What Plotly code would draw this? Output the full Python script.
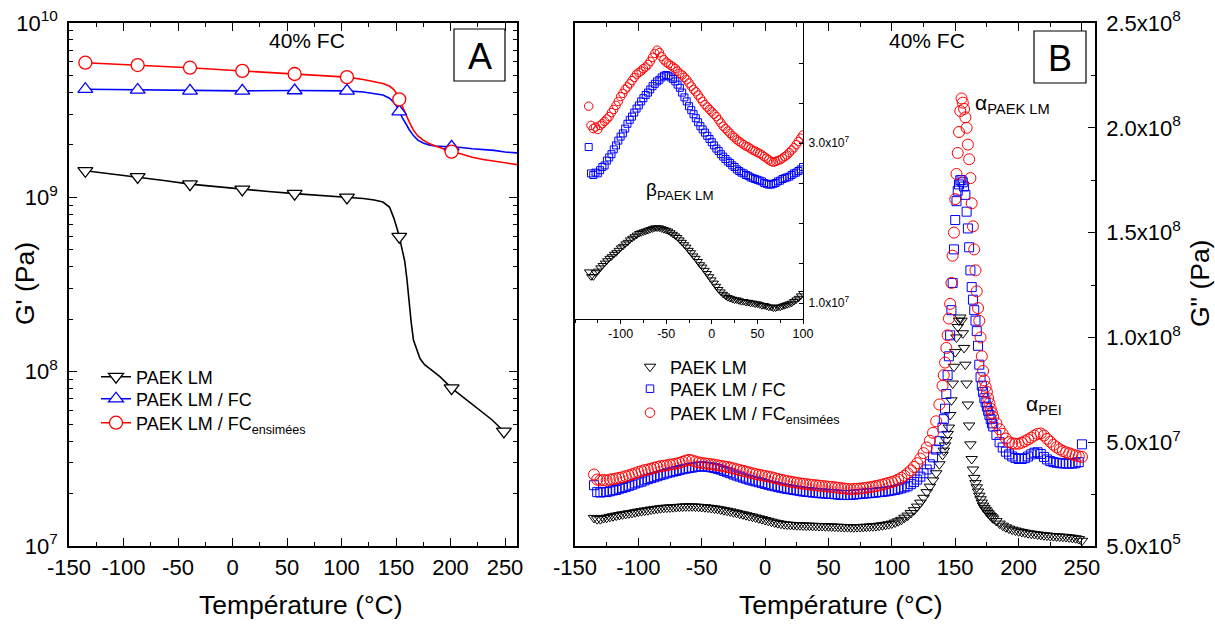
import plotly.graph_objects as go

W, H = 1215, 624
FONT = "Arial, 'Liberation Sans', Helvetica, sans-serif"


def px(x):
    return x / W


def py(y):
    return 1 - y / H


# ---------------- Panel A : G' (Pa), log scale ----------------
temp_a_markers = [-135, -87, -39, 9, 57, 105, 153, 201, 249]
g1_lm_markers = [1.42e9, 1.31e9, 1.19e9, 1.11e9, 1.05e9, 1.0e9, 5.95e8, 8.04e7, 4.54e7]
g1_fc_markers = [4.17e9, 4.13e9, 4.08e9, 4.08e9, 4.10e9, 4.08e9, 3.10e9, 1.95e9]
g1_fcens_markers = [5.92e9, 5.74e9, 5.54e9, 5.31e9, 5.10e9, 4.89e9, 3.65e9, 1.83e9]

temp_a_lm_line = [-135, -111, -87, -63, -39, -15, 9, 33, 57, 81, 105, 120, 130, 138, 144, 148,
                  151, 153, 156, 158, 160, 162, 164, 166, 169, 172, 176, 181, 190, 201, 212,
                  225, 238, 249]
g1_lm_line = [1.42e9, 1.365e9, 1.31e9, 1.25e9, 1.19e9, 1.15e9, 1.11e9, 1.08e9, 1.05e9, 1.025e9,
              1.0e9, 9.85e8, 9.65e8, 9.4e8, 8.8e8, 7.6e8, 6.6e8, 5.95e8, 4.9e8, 4.3e8, 3.4e8,
              2.5e8, 1.9e8, 1.52e8, 1.33e8, 1.19e8, 1.10e8, 1.04e8, 9.4e7, 8.04e7, 7.1e7,
              6.2e7, 5.3e7, 4.54e7]

temp_a_fc_line = [-135, -87, -39, 9, 57, 105, 120, 130, 138, 144, 148, 151, 153, 156, 159, 162,
                  166, 170, 175, 180, 186, 193, 201, 210, 220, 230, 240, 250, 261]
g1_fc_line = [4.17e9, 4.13e9, 4.08e9, 4.08e9, 4.10e9, 4.08e9, 4.02e9, 3.95e9, 3.86e9, 3.70e9,
              3.50e9, 3.30e9, 3.10e9, 2.85e9, 2.65e9, 2.45e9, 2.26e9, 2.13e9, 2.05e9, 2.00e9,
              1.97e9, 1.96e9, 1.95e9, 1.93e9, 1.90e9, 1.88e9, 1.86e9, 1.82e9, 1.80e9]
g1_fcens_line = [5.92e9, 5.74e9, 5.54e9, 5.31e9, 5.10e9, 4.89e9, 4.74e9, 4.62e9, 4.50e9, 4.35e9,
                 4.15e9, 3.90e9, 3.65e9, 3.30e9, 3.02e9, 2.72e9, 2.43e9, 2.25e9, 2.13e9, 2.04e9,
                 1.97e9, 1.90e9, 1.83e9, 1.77e9, 1.70e9, 1.65e9, 1.61e9, 1.57e9, 1.54e9]

# ---------------- Panel B : G'' (values in 1e7 Pa) ----------------
temp_b_low = [-135, -132.5, -130, -127.5, -125, -122.5, -120, -117.5, -115, -112.5,
              -110, -107.5, -105, -102.5, -100, -97.5, -95, -92.5, -90, -87.5,
              -85, -82.5, -80, -77.5, -75, -72.5, -70, -67.5, -65, -62.5,
              -60, -57.5, -55, -52.5, -50, -47.5, -45, -42.5, -40, -37.5,
              -35, -32.5, -30, -27.5, -25, -22.5, -20, -17.5, -15, -12.5,
              -10, -7.5, -5, -2.5, 0, 2.5, 5, 7.5, 10, 12.5,
              15, 17.5, 20, 22.5, 25, 27.5, 30, 32.5, 35, 37.5,
              40, 42.5, 45, 47.5, 50, 52.5, 55, 57.5, 60, 62.5,
              65, 67.5, 70, 72.5, 75, 77.5, 80, 82.5, 85, 87.5,
              90, 92.5, 95, 97.5, 100, 102.5, 105, 107.5, 110, 112.5,
              115, 117.5, 120, 122.5, 125, 127.5, 130, 132.5, 135, 137.5]
temp_b_peak = [140, 141, 142, 143, 144, 145, 146, 147, 148, 149,
               150, 151, 152, 153, 154, 155, 156, 157, 158, 159,
               160, 161, 162, 163, 164, 165, 166, 167, 168, 169,
               170, 171, 172, 173, 174, 175, 176, 177, 178, 179, 180]
temp_b_high = [182.5, 185, 187.5, 190, 192.5, 195, 197.5, 200, 202.5, 205,
               207.5, 210, 212.5, 215, 217.5, 220, 222.5, 225, 227.5, 230,
               232.5, 235, 237.5, 240, 242.5, 245, 247.5, 250]

g2_lm_low = [1.39, 1.33, 1.33, 1.38, 1.40, 1.44, 1.47, 1.50, 1.53, 1.56,
             1.58, 1.61, 1.63, 1.66, 1.69, 1.71, 1.74, 1.76, 1.79, 1.81,
             1.83, 1.85, 1.87, 1.88, 1.89, 1.90, 1.91, 1.92, 1.93, 1.94,
             1.94, 1.94, 1.93, 1.92, 1.91, 1.90, 1.88, 1.86, 1.84, 1.82,
             1.79, 1.76, 1.73, 1.70, 1.66, 1.63, 1.59, 1.56, 1.52, 1.48,
             1.45, 1.41, 1.37, 1.33, 1.29, 1.25, 1.21, 1.17, 1.14, 1.11,
             1.09, 1.07, 1.06, 1.05, 1.04, 1.04, 1.03, 1.02, 1.02, 1.01,
             1.01, 1.00, 1.00, 0.99, 0.99, 0.98, 0.97, 0.97, 0.96, 0.95,
             0.95, 0.94, 0.94, 0.95, 0.95, 0.96, 0.97, 0.98, 0.99, 1.00,
             1.02, 1.04, 1.06, 1.09, 1.12, 1.17, 1.23, 1.30, 1.40, 1.50,
             1.62, 1.76, 1.93, 2.12, 2.35, 2.62, 2.88, 3.18, 3.52, 3.95]
g2_lm_peak = [4.40, 4.60, 4.85, 5.10, 5.40, 5.70, 6.30, 7.00, 7.80, 8.60,
              9.30, 10.00, 10.50, 10.80, 10.95, 10.80, 10.20, 9.50, 8.70, 7.80,
              6.80, 5.80, 4.90, 4.20, 3.70, 3.30, 3.05, 2.85, 2.65, 2.45,
              2.28, 2.12, 1.98, 1.87, 1.78, 1.70, 1.62, 1.55, 1.48, 1.42, 1.36]
g2_lm_high = [1.24, 1.12, 1.02, 0.94, 0.88, 0.83, 0.79, 0.75, 0.72, 0.69,
              0.66, 0.64, 0.62, 0.60, 0.58, 0.56, 0.55, 0.53, 0.52, 0.51,
              0.50, 0.49, 0.48, 0.46, 0.44, 0.42, 0.38, 0.30]

g2_fc_low = [2.95, 2.62, 2.60, 2.63, 2.62, 2.66, 2.70, 2.72, 2.78, 2.82,
             2.86, 2.92, 2.97, 3.03, 3.08, 3.12, 3.18, 3.24, 3.29, 3.33,
             3.38, 3.43, 3.47, 3.52, 3.56, 3.60, 3.63, 3.67, 3.71, 3.74,
             3.77, 3.79, 3.82, 3.84, 3.85, 3.84, 3.82, 3.80, 3.77, 3.73,
             3.69, 3.63, 3.57, 3.52, 3.46, 3.41, 3.36, 3.31, 3.26, 3.21,
             3.17, 3.13, 3.09, 3.05, 3.01, 2.97, 2.93, 2.90, 2.86, 2.83,
             2.80, 2.77, 2.75, 2.72, 2.70, 2.67, 2.65, 2.63, 2.62, 2.60,
             2.59, 2.57, 2.56, 2.55, 2.54, 2.53, 2.52, 2.50, 2.49, 2.48,
             2.48, 2.49, 2.50, 2.52, 2.53, 2.55, 2.56, 2.57, 2.58, 2.60,
             2.62, 2.63, 2.65, 2.67, 2.70, 2.72, 2.76, 2.80, 2.85, 2.90,
             3.00, 3.10, 3.22, 3.36, 3.52, 3.70, 3.95, 4.28, 4.65, 5.05]
g2_fc_peak = [5.70, 6.10, 6.60, 7.30, 8.20, 9.10, 10.10, 11.30, 12.60, 14.20,
              15.60, 16.50, 17.00, 17.30, 17.50, 17.50, 17.40, 17.20, 16.80, 16.00,
              15.20, 14.30, 13.20, 12.40, 11.80, 11.30, 10.80, 10.30, 9.60, 8.70,
              8.10, 7.70, 7.40, 7.10, 6.90, 6.70, 6.50, 6.30, 6.10, 5.90, 5.75]
g2_fc_high = [5.35, 5.00, 4.75, 4.55, 4.42, 4.32, 4.25, 4.20, 4.20, 4.24,
              4.32, 4.42, 4.50, 4.52, 4.44, 4.30, 4.18, 4.10, 4.05, 4.02,
              4.00, 3.99, 3.98, 3.98, 3.98, 4.00, 4.05, 4.90]

g2_fcens_low = [3.46, 3.22, 3.18, 3.20, 3.17, 3.22, 3.24, 3.27, 3.30, 3.33,
                3.38, 3.42, 3.47, 3.52, 3.58, 3.62, 3.67, 3.70, 3.74, 3.78,
                3.82, 3.86, 3.88, 3.90, 3.93, 3.95, 3.98, 4.02, 4.07, 4.12,
                4.16, 4.13, 4.08, 4.04, 4.01, 3.99, 3.97, 3.95, 3.93, 3.90,
                3.87, 3.85, 3.82, 3.79, 3.75, 3.71, 3.67, 3.64, 3.60, 3.56,
                3.52, 3.48, 3.45, 3.42, 3.39, 3.36, 3.33, 3.29, 3.25, 3.21,
                3.18, 3.15, 3.12, 3.09, 3.07, 3.04, 3.02, 3.00, 2.98, 2.96,
                2.95, 2.93, 2.91, 2.90, 2.88, 2.87, 2.85, 2.83, 2.81, 2.79,
                2.77, 2.76, 2.77, 2.78, 2.79, 2.81, 2.83, 2.85, 2.88, 2.91,
                2.94, 2.98, 3.02, 3.06, 3.10, 3.15, 3.22, 3.30, 3.40, 3.52,
                3.66, 3.82, 4.00, 4.22, 4.48, 4.75, 5.07, 5.45, 6.00, 6.80]
g2_fcens_peak = [7.70, 8.20, 8.80, 9.50, 10.10, 10.90, 11.60, 12.60, 13.90, 15.00,
                 16.60, 17.80, 18.80, 19.80, 20.80, 21.40, 21.20, 20.90, 20.50, 20.00,
                 19.20, 18.50, 17.60, 16.40, 15.30, 14.20, 13.20, 12.20, 11.40, 10.80,
                 10.00, 9.10, 8.40, 7.95, 7.65, 7.40, 7.10, 6.85, 6.60, 6.40, 6.20]
g2_fcens_high = [5.90, 5.62, 5.40, 5.18, 5.00, 4.95, 4.93, 4.93, 4.98, 5.05,
                 5.13, 5.22, 5.32, 5.40, 5.42, 5.32, 5.16, 5.02, 4.88, 4.76,
                 4.66, 4.58, 4.52, 4.47, 4.42, 4.37, 4.33, 4.30]

series_names = ["PAEK LM", "PAEK LM / FC", "PAEK LM / FC<sub>ensimées</sub>"]

# tick definitions
xticks_main = [-150, -100, -50, 0, 50, 100, 150, 200, 250]
xticks_main_text = ["-150", "-100", "-50", "0", "50", "100", "150", "200", "250"]
ya_tickvals = [1e7, 1e8, 1e9, 1e10]
ya_ticktext = ["10<sup>7</sup>", "10<sup>8</sup>", "10<sup>9</sup>", "10<sup>10</sup>"]
ya_minor = [m * 10 ** e for e in (7, 8, 9) for m in range(2, 10)]
yb_tickvals = [5e5, 5e7, 1e8, 1.5e8, 2e8, 2.5e8]
yb_ticktext = ["5.0x10<sup>5</sup>", "5.0x10<sup>7</sup>", "1.0x10<sup>8</sup>",
               "1.5x10<sup>8</sup>", "2.0x10<sup>8</sup>", "2.5x10<sup>8</sup>"]
yb_minor = [2.5e7, 7.5e7, 1.25e8, 1.75e8, 2.25e8]
xticks_inset = [-100, -50, 0, 50, 100]
xticks_inset_text = ["-100", "-50", "0", "50", "100"]
yin_tickvals = [1e7, 3e7]
yin_ticktext = ["1.0x10<sup>7</sup>", "3.0x10<sup>7</sup>"]
yin_minor = [1.5e7, 2e7, 2.5e7, 3.5e7, 4e7]

# ---------------- build figure ----------------
temp_b = temp_b_low + temp_b_peak + temp_b_high
g2_lm = [v * 1e7 for v in g2_lm_low + g2_lm_peak + g2_lm_high]
g2_fc = [v * 1e7 for v in g2_fc_low + g2_fc_peak + g2_fc_high]
g2_fcens = [v * 1e7 for v in g2_fcens_low + g2_fcens_peak + g2_fcens_high]

BLACK, BLUE, RED = "#000000", "#0000ff", "#ff0000"
legends_a = ["legend", "legend3", "legend4"]
legends_b = ["legend2", "legend5", "legend6"]
fig = go.Figure()

# Panel A lines
for tx, ty, col in [(temp_a_lm_line, g1_lm_line, BLACK),
                    (temp_a_fc_line, g1_fc_line, BLUE),
                    (temp_a_fc_line, g1_fcens_line, RED)]:
    fig.add_trace(go.Scatter(x=tx, y=ty, mode="lines", line=dict(color=col, width=1.6),
                             xaxis="x", yaxis="y", showlegend=False, hoverinfo="skip"))
# Panel A markers
a_marker_sets = [
    (temp_a_markers, g1_lm_markers, BLACK, "triangle-down", 13),
    (temp_a_markers[:len(g1_fc_markers)], g1_fc_markers, BLUE, "triangle-up", 13),
    (temp_a_markers[:len(g1_fcens_markers)], g1_fcens_markers, RED, "circle", 13),
]
for tx, ty, col, sym, sz in a_marker_sets:
    fig.add_trace(go.Scatter(x=tx, y=ty, mode="markers",
                             marker=dict(symbol=sym, size=sz, color="white",
                                         line=dict(color=col, width=1.3)),
                             xaxis="x", yaxis="y", showlegend=False, hoverinfo="skip"))
# Panel A legend entries (one legend per row)
for name, col, sym, lg in zip(series_names, [BLACK, BLUE, RED],
                              ["triangle-down", "triangle-up", "circle"], legends_a):
    fig.add_trace(go.Scatter(x=[None], y=[None], mode="lines+markers", name=name,
                             line=dict(color=col, width=1.6),
                             marker=dict(symbol=sym, size=13, color="white", line=dict(color=col, width=1.3)),
                             xaxis="x", yaxis="y", legend=lg))

# Panel B main
b_sets = [(g2_lm, BLACK, "triangle-down-open", 10, 10),
          (g2_fc, BLUE, "square-open", 9, 7.5),
          (g2_fcens, RED, "circle-open", 11, 9.5)]
for (vals, col, sym, sz, lsz), name, lg in zip(b_sets, series_names, legends_b):
    fig.add_trace(go.Scatter(x=temp_b, y=vals, mode="markers", showlegend=False,
                             marker=dict(symbol=sym, size=sz, color=col, line=dict(width=1)),
                             xaxis="x2", yaxis="y2", hoverinfo="skip"))
    fig.add_trace(go.Scatter(x=[None], y=[None], mode="markers", name=name,
                             marker=dict(symbol=sym, size=lsz, color=col, line=dict(width=1)),
                             xaxis="x2", yaxis="y2", legend=lg))

# Inset (T <= 100)
for vals, col, sym, sz in [(g2_lm, BLACK, "triangle-down-open", 7.5),
                           (g2_fc, BLUE, "square-open", 7),
                           (g2_fcens, RED, "circle-open", 8.5)]:
    xs = [t for t in temp_b if t <= 100]
    ys = [v for t, v in zip(temp_b, vals) if t <= 100]
    fig.add_trace(go.Scatter(x=xs, y=ys, mode="markers",
                             marker=dict(symbol=sym, size=sz, color=col, line=dict(width=1)),
                             xaxis="x3", yaxis="y3", showlegend=False, hoverinfo="skip"))

base_axis = dict(showline=True, linecolor="black", linewidth=1.5, showgrid=False, zeroline=False,
                 automargin=False, tickcolor="black", tickwidth=1.2,
                 tickfont=dict(size=22, family=FONT, color="black"))
minor_x = dict(tickmode="linear", tick0=-150, dtick=25, ticks="inside", ticklen=4,
               tickcolor="black", tickwidth=1.2, showgrid=False)


def legend_box(x, y):
    return dict(x=px(x), y=py(y), xanchor="left", yanchor="middle", bgcolor="rgba(0,0,0,0)",
                borderwidth=0, font=dict(size=18, family=FONT, color="black"),
                tracegroupgap=0, itemwidth=30)


fig.update_layout(
    template="none",
    width=W, height=H, margin=dict(l=0, r=0, t=0, b=0, pad=0),
    paper_bgcolor="white", plot_bgcolor="rgba(0,0,0,0)",
    font=dict(family=FONT, color="black"),
    showlegend=True,
    legend=legend_box(96, 377),
    legend3=legend_box(96, 399),
    legend4=legend_box(96, 423),
    legend2=legend_box(630, 367),
    legend5=legend_box(630, 389),
    legend6=legend_box(630, 413),
    xaxis=dict(base_axis, domain=[px(69), px(517)], range=[-150, 261], anchor="y",
               tickmode="array", tickvals=xticks_main, ticktext=xticks_main_text,
               ticks="inside", ticklen=8, mirror="ticks", ticklabelstandoff=1, minor=minor_x),
    yaxis=dict(base_axis, type="log", domain=[py(546), py(23)], range=[7, 10], anchor="x",
               tickmode="array", tickvals=ya_tickvals, ticktext=ya_ticktext, ticks="inside",
               ticklen=8, mirror="ticks", ticklabelstandoff=5,
               minor=dict(tickmode="array", tickvals=ya_minor, ticks="inside", ticklen=4,
                          tickcolor="black", tickwidth=1.2, showgrid=False)),
    xaxis2=dict(base_axis, domain=[px(575), px(1095)], range=[-150, 260.3], anchor="y2",
                tickmode="array", tickvals=xticks_main, ticktext=xticks_main_text,
                ticks="inside", ticklen=8, mirror="ticks", ticklabelstandoff=1, minor=minor_x),
    yaxis2=dict(base_axis, domain=[py(546), py(23)], range=[5e5, 2.5e8], anchor="x2", side="right",
                tickmode="array", tickvals=yb_tickvals, ticktext=yb_ticktext, ticks="inside",
                ticklen=7, mirror=True, ticklabelstandoff=5,
                minor=dict(tickmode="array", tickvals=yb_minor, ticks="inside", ticklen=4,
                           tickcolor="black", tickwidth=1.2, showgrid=False)),
    xaxis3=dict(base_axis, domain=[px(575), px(803)], range=[-150, 100], anchor="y3",
                tickmode="array", tickvals=xticks_inset, ticktext=xticks_inset_text,
                ticks="outside", ticklen=4, mirror=True, ticklabelstandoff=-1,
                tickfont=dict(size=12.5, family=FONT, color="black"), linewidth=1.2,
                minor=dict(tickmode="linear", tick0=-150, dtick=25, ticks="outside", ticklen=3,
                           tickcolor="black", tickwidth=1, showgrid=False)),
    yaxis3=dict(base_axis, domain=[py(319), py(23)], range=[8e6, 4.5e7], anchor="x3", side="right",
                tickmode="array", tickvals=yin_tickvals, ticktext=yin_ticktext, ticks="inside",
                ticklen=4, mirror=True, linewidth=1.2, ticklabelstandoff=2,
                tickfont=dict(size=12, family=FONT, color="black"),
                minor=dict(tickmode="array", tickvals=yin_minor, ticks="inside", ticklen=4,
                           tickcolor="black", tickwidth=1, showgrid=False)),
)

# boxes with panel letters
for x0, x1, y0, y1 in [(454, 505, 29, 81), (1034, 1086, 31, 83)]:
    fig.add_shape(type="rect", xref="paper", yref="paper", x0=px(x0), x1=px(x1), y0=py(y1), y1=py(y0),
                  line=dict(color="black", width=1.2), fillcolor="rgba(0,0,0,0)")

annotations = [
    ("A", 479.5, 56, 36, "center", 0),
    ("B", 1060, 58, 36, "center", 0),
    ("40% FC", 307, 40, 21, "center", 0),
    ("40% FC", 927, 40, 21, "center", 0),
    ("α<sub>PAEK LM</sub>", 973, 104, 21, "left", 0),
    ("α<sub>PEI</sub>", 1024, 405, 21, "left", 0),
    ("β<sub>PAEK LM</sub>", 644, 191, 19, "left", 0),
    ("Température (°C)", 301, 605, 26.5, "center", 0),
    ("Température (°C)", 841, 605, 26.5, "center", 0),
    ("G' (Pa)", 25, 284, 26.5, "center", -90),
    ('G" (Pa)', 1200, 284, 26.5, "center", -90),
]
for text, x, y, size, xa, ang in annotations:
    fig.add_annotation(text=text, x=px(x), y=py(y), xref="paper", yref="paper",
                       xanchor=xa, yanchor="middle", showarrow=False, textangle=ang,
                       font=dict(size=size, family=FONT, color="black"))

fig.write_html("out.html", config={"displayModeBar": False},
               post_script="document.body.style.margin='0px';")
